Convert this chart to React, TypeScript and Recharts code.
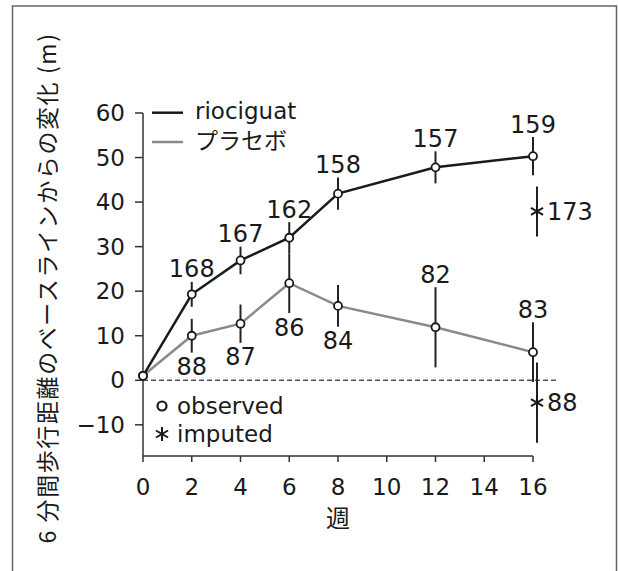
import React from 'react';
import {
  ComposedChart,
  Line,
  XAxis,
  YAxis,
  ErrorBar,
  Scatter,
  ReferenceLine,
  Customized,
} from 'recharts';

// ---- data ----
const weeks = [0, 2, 4, 6, 8, 12, 16];
const rioMean = [1, 19.3, 26.9, 32.0, 41.9, 47.8, 50.3];
const rioErr = [0, 2.8, 3.1, 3.5, 3.6, 3.6, 4.3];
const rioN: (number | null)[] = [null, 168, 167, 162, 158, 157, 159];
const placeboMean = [1, 10.0, 12.7, 21.8, 16.7, 11.9, 6.3];
const placeboErr = [0, 3.8, 4.3, 6.7, 4.7, 9.0, 6.7];
const placeboN: (number | null)[] = [null, 88, 87, 86, 84, 82, 83];
const placeboLabelBelow = [false, true, true, true, true, false, false];

const imputedWeek = 16;
const imputedMean = [37.9, -5.0];
const imputedErr = [5.6, 9.0];
const imputedN = [173, 88];

const xTicks = [0, 2, 4, 6, 8, 10, 12, 14, 16];
const yTicks = [-10, 0, 10, 20, 30, 40, 50, 60];

const seriesNames = ['riociguat', 'プラセボ'];
const markerNames = ['observed', 'imputed'];
const xTitle = '週';
const yTitle = '6 分間歩行距離のベースラインからの変化 (m)';

// ---- derived tables ----
const data = weeks.map((w, i) => ({
  week: w,
  rio: rioMean[i],
  rioErr: rioErr[i],
  placebo: placeboMean[i],
  placeboErr: placeboErr[i],
}));

const rioLabels = weeks
  .map((w, i) => ({ week: w, y: rioMean[i] + rioErr[i], n: rioN[i] }))
  .filter((d) => d.n != null);

const placeboLabels = weeks
  .map((w, i) => ({
    week: w,
    y: placeboLabelBelow[i] ? placeboMean[i] - placeboErr[i] : placeboMean[i] + placeboErr[i],
    n: placeboN[i],
    below: placeboLabelBelow[i],
  }))
  .filter((d) => d.n != null);

const imputedData = imputedMean.map((m, i) => ({
  week: imputedWeek,
  y: m,
  err: imputedErr[i],
  n: imputedN[i],
}));

const FONT = '"DejaVu Sans", sans-serif';
const JP = '"Noto Sans CJK JP", sans-serif';
const INK = '#1a1a1a';
const GREY = '#8a8a8a';

const RioLabel = (props: any) => {
  const { cx, cy, payload } = props;
  return (
    <text x={cx} y={cy - 4.5} textAnchor="middle" fontSize={24} fontFamily={FONT} fill={INK}>
      {payload.n}
    </text>
  );
};

const PlaceboLabel = (props: any) => {
  const { cx, cy, payload } = props;
  const y = payload.below ? cy + 5 + 17.5 : cy - 4.5;
  return (
    <text x={cx} y={y} textAnchor="middle" fontSize={24} fontFamily={FONT} fill={INK}>
      {payload.n}
    </text>
  );
};

const Asterisk = ({ cx, cy, r = 7 }: { cx: number; cy: number; r?: number }) => {
  const dx = r * Math.cos(Math.PI / 6);
  const dy = r * Math.sin(Math.PI / 6);
  return (
    <g stroke={INK} strokeWidth={2}>
      <line x1={cx} y1={cy - r} x2={cx} y2={cy + r} />
      <line x1={cx - dx} y1={cy - dy} x2={cx + dx} y2={cy + dy} />
      <line x1={cx - dx} y1={cy + dy} x2={cx + dx} y2={cy - dy} />
    </g>
  );
};

const ImputedShape = (props: any) => {
  const { cx, cy, payload } = props;
  return (
    <g>
      <Asterisk cx={cx} cy={cy} />
      <text x={cx + 10} y={cy + 8.7} fontSize={24} fontFamily={FONT} fill={INK}>
        {payload.n}
      </text>
    </g>
  );
};

const Overlay = () => (
  <g>
    {/* frame */}
    <rect x={12.5} y={6} width={604} height={600} fill="none" stroke="#666" strokeWidth={1.5} />
    {/* series legend */}
    <line x1={152} y1={112.7} x2={183} y2={112.7} stroke={INK} strokeWidth={2.5} />
    <text x={195} y={118.5} fontSize={23} fontFamily={FONT} fill={INK}>
      {seriesNames[0]}
    </text>
    <line x1={152} y1={142} x2={183} y2={142} stroke={GREY} strokeWidth={2.5} />
    <text x={195} y={148.5} fontSize={23} fontFamily={JP} fill={INK}>
      {seriesNames[1]}
    </text>
    {/* marker legend */}
    <circle cx={162} cy={406} r={4.5} fill="#fff" stroke={INK} strokeWidth={2.2} />
    <text x={177} y={413.5} fontSize={23} fontFamily={FONT} fill={INK}>
      {markerNames[0]}
    </text>
    <Asterisk cx={162} cy={434} r={7} />
    <text x={177} y={441.5} fontSize={23} fontFamily={FONT} fill={INK}>
      {markerNames[1]}
    </text>
    {/* axis titles */}
    <text x={338} y={527} textAnchor="middle" fontSize={24} fontFamily={JP} fill={INK}>
      {xTitle}
    </text>
    <text
      x={0}
      y={0}
      transform="translate(56,288) rotate(-90)"
      textAnchor="middle"
      fontSize={23}
      letterSpacing={1.6}
      fontFamily={JP}
      fill={INK}
    >
      {yTitle}
    </text>
  </g>
);

const fmtY = (v: number) => (v < 0 ? `\u2212${Math.abs(v)}` : `${v}`);

const shiftStyle = { transform: 'translateX(4px)' };

export default function App() {
  return (
    <div style={{ position: 'absolute', left: 0, top: 0, width: 618, height: 571, background: '#fff' }}>
      <style>{`.imputed-shift { transform: translateX(4px); }`}</style>
      <ComposedChart
        width={618}
        height={571}
        data={data}
        margin={{ top: 113, right: 85, bottom: 0, left: 0 }}
      >
        <XAxis
          dataKey="week"
          type="number"
          domain={[0, 16]}
          ticks={xTicks}
          height={115}
          tickSize={6}
          tickMargin={17}
          axisLine={{ stroke: '#333', strokeWidth: 1.5 }}
          tickLine={{ stroke: '#333', strokeWidth: 1.5 }}
          tick={{ fontSize: 23, fill: INK, fontFamily: FONT }}
        />
        <YAxis
          type="number"
          domain={[-17, 60]}
          ticks={yTicks}
          width={143}
          tickSize={8}
          tickMargin={10}
          tickFormatter={fmtY}
          axisLine={{ stroke: '#333', strokeWidth: 1.5 }}
          tickLine={{ stroke: '#333', strokeWidth: 1.5 }}
          tick={{ fontSize: 23, fill: INK, fontFamily: FONT }}
        />
        <ReferenceLine
          segment={[
            { x: 0, y: 0 },
            { x: 16.95, y: 0 },
          ]}
          ifOverflow="visible"
          stroke="#555"
          strokeWidth={1.5}
          strokeDasharray="5 3"
        />
        <Line
          dataKey="placebo"
          stroke={GREY}
          strokeWidth={2.5}
          isAnimationActive={false}
          dot={{ r: 4, fill: '#fff', stroke: INK, strokeWidth: 1.8 }}
          activeDot={false}
        >
          <ErrorBar dataKey="placeboErr" width={0} direction="y" stroke="#222" strokeWidth={2} />
        </Line>
        <Line
          dataKey="rio"
          stroke={INK}
          strokeWidth={2.5}
          isAnimationActive={false}
          dot={{ r: 4, fill: '#fff', stroke: INK, strokeWidth: 1.8 }}
          activeDot={false}
        >
          <ErrorBar dataKey="rioErr" width={0} direction="y" stroke="#222" strokeWidth={2} />
        </Line>
        <Scatter
          data={imputedData}
          dataKey="y"
          className="imputed-shift"
          shape={ImputedShape}
          isAnimationActive={false}
        >
          <ErrorBar
            dataKey="err"
            width={0}
            direction="y"
            stroke="#222"
            strokeWidth={2}
            className="imputed-shift"
            style={shiftStyle}
          />
        </Scatter>
        <Scatter data={rioLabels} dataKey="y" shape={RioLabel} isAnimationActive={false} />
        <Scatter data={placeboLabels} dataKey="y" shape={PlaceboLabel} isAnimationActive={false} />
        <Customized component={<Overlay />} />
      </ComposedChart>
    </div>
  );
}
